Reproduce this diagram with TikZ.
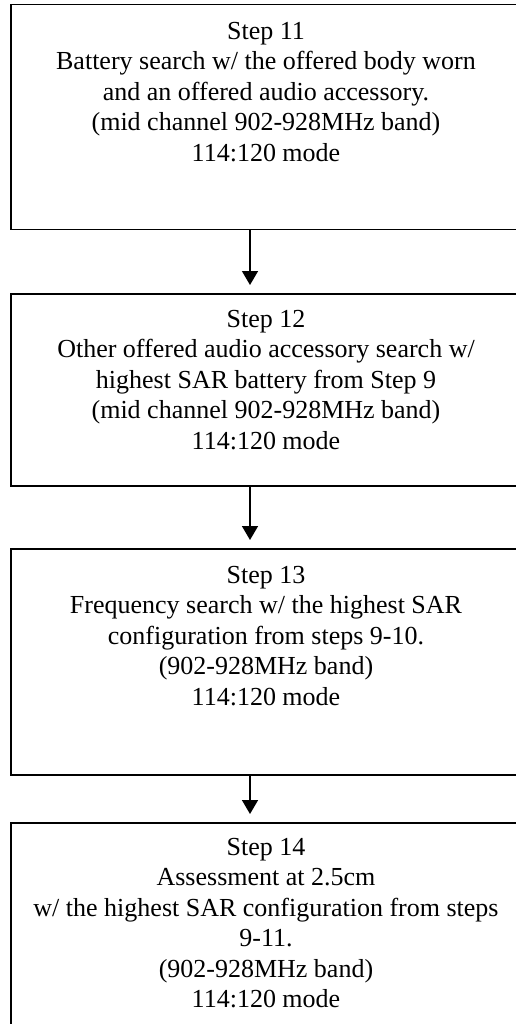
\documentclass[tikz,border=0pt]{standalone}
\usepackage{fontspec}
\setmainfont{Liberation Serif}
\usetikzlibrary{arrows.meta}
\begin{document}
\begin{tikzpicture}[x=1pt,y=-1pt,
  stepbox/.style={draw,line width=1.5pt,anchor=north west,minimum width=512pt,inner sep=0pt},
  txt/.style={anchor=north,align=center,font=\fontsize{26}{30.5}\selectfont,inner sep=0pt},
  arr/.style={line width=1.5pt,-{Triangle[length=14pt,width=16pt]},shorten >=8pt}]
\useasboundingbox (0,0) rectangle (516,1024);
\coordinate (ax) at (250,0);
\node[stepbox,minimum height=225pt] (b1) at (10,4) {};
\node[stepbox,minimum height=192pt] (b2) at (10,293) {};
\node[stepbox,minimum height=226pt] (b3) at (10,548) {};
\node[stepbox,minimum height=230pt] (b4) at (10,822) {};
\node[txt] (t1) at (266,22) {Step 11\\Battery search w/ the offered body worn\\and an offered audio accessory.\\(mid channel 902-928MHz band)\\114:120 mode};
\node[txt] (t2) at (266,310) {Step 12\\Other offered audio accessory search w/\\highest SAR battery from Step 9\\(mid channel 902-928MHz band)\\114:120 mode};
\node[txt] (t3) at (266,566) {Step 13\\Frequency search w/ the highest SAR\\configuration from steps 9-10.\\(902-928MHz band)\\114:120 mode};
\node[txt] (t4) at (266,838) {Step 14\\Assessment at 2.5cm\\w/ the highest SAR configuration from steps\\9-11.\\(902-928MHz band)\\114:120 mode};
\draw[arr] (b1.south -| ax) -- (b2.north -| ax);
\draw[arr] (b2.south -| ax) -- (b3.north -| ax);
\draw[arr] (b3.south -| ax) -- (b4.north -| ax);
\end{tikzpicture}
\end{document}
